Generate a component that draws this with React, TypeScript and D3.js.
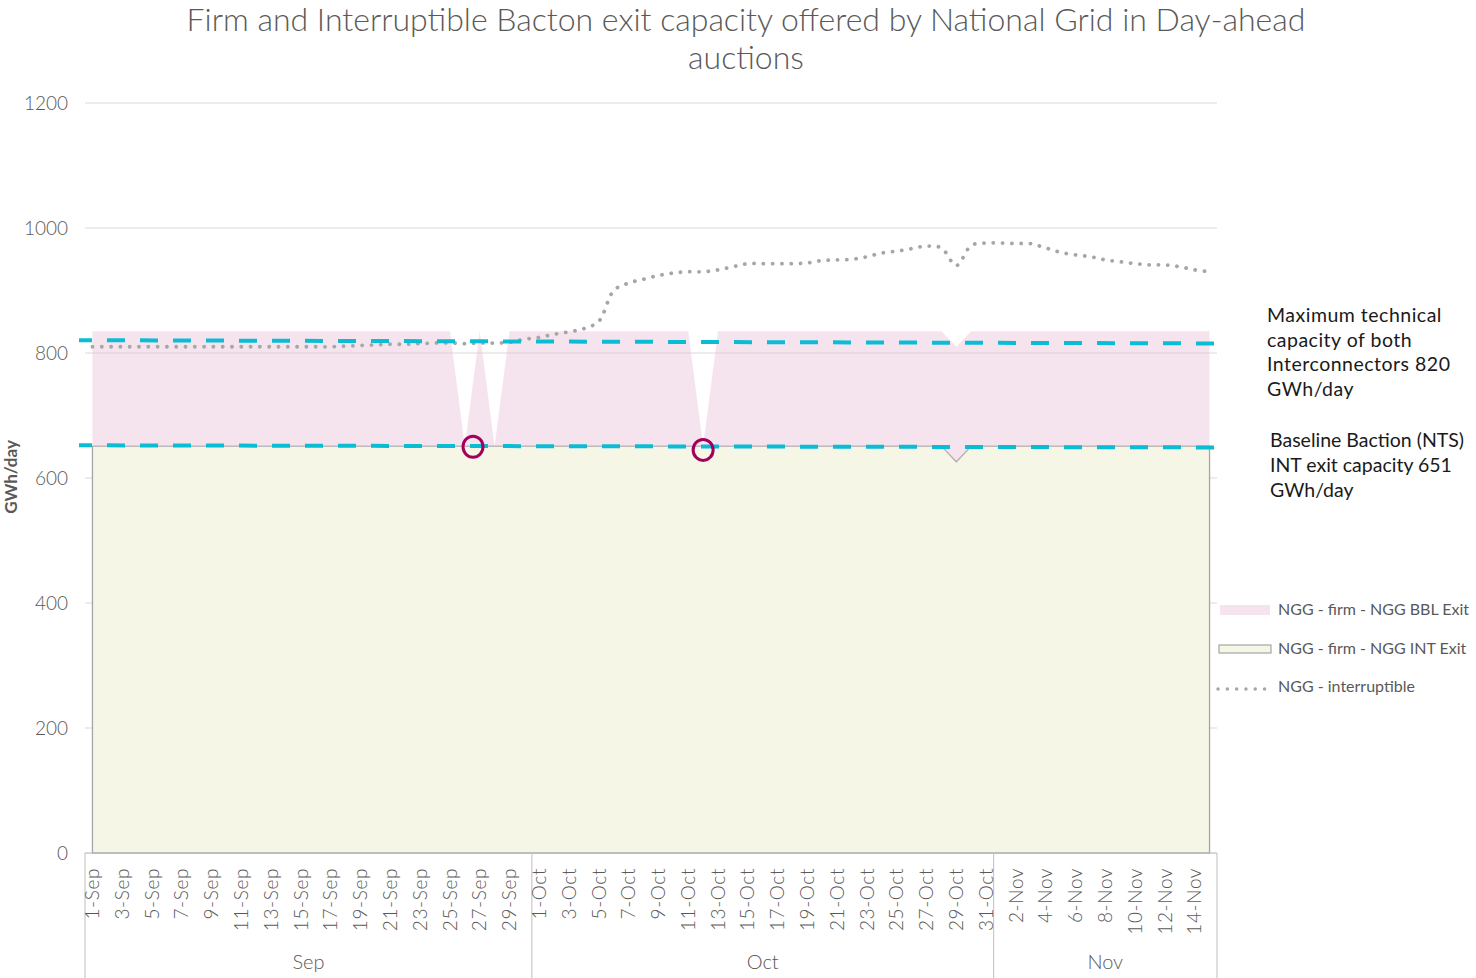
import * as d3 from 'd3'

// categories: one entry per day, 1 Sep to 15 Nov
const dayDates = d3.timeDay.range(new Date(2019, 8, 1), new Date(2019, 10, 16))
const fmtDay = d3.timeFormat('%-d-%b')
const fmtMonth = d3.timeFormat('%b')
const days = dayDates.map((d) => fmtDay(d))
const monthStarts = ['1-Sep', '1-Oct', '1-Nov']

// NGG - firm - NGG INT Exit (GWh/day)
const intExit = [
	651, 651, 651, 651, 651, 651, 651, 651, 651, 651, 651, 651, 651, 651, 651,
	651, 651, 651, 651, 651, 651, 651, 651, 651, 651, 651, 651, 651, 651, 651,
	651, 651, 651, 651, 651, 651, 651, 651, 651, 651, 651, 651, 651, 651, 651,
	651, 651, 651, 651, 651, 651, 651, 651, 651, 651, 651, 651, 651, 626, 651,
	651, 651, 651, 651, 651, 651, 651, 651, 651, 651, 651, 651, 651, 651, 651,
	651,
]
// NGG - firm - NGG BBL Exit (GWh/day), stacked on INT
const bblExit = [
	184, 184, 184, 184, 184, 184, 184, 184, 184, 184, 184, 184, 184, 184, 184,
	184, 184, 184, 184, 184, 184, 184, 184, 184, 184, 0, 184, 0, 184, 184,
	184, 184, 184, 184, 184, 184, 184, 184, 184, 184, 184, 0, 184, 184, 184,
	184, 184, 184, 184, 184, 184, 184, 184, 184, 184, 184, 184, 184, 184, 184,
	184, 184, 184, 184, 184, 184, 184, 184, 184, 184, 184, 184, 184, 184, 184,
	184,
]
// NGG - interruptible (GWh/day)
const interruptible = [
	810, 810, 810, 810, 810, 810, 810, 810, 810, 810, 810, 810, 810, 810, 810,
	810, 810, 811, 812, 813, 814, 814, 815, 816, 816, 815, 816, 816, 817, 822,
	825, 830, 834, 839, 851, 900, 912, 918, 924, 928, 930, 930, 933, 938, 943,
	943, 943, 943, 944, 948, 949, 950, 954, 960, 963, 967, 971, 968, 940, 972,
	976, 976, 975, 975, 968, 961, 957, 954, 949, 946, 943, 941, 941, 938, 933,
	930,
]

const yTicks = [0, 200, 400, 600, 800, 1000, 1200]

const refLines = [
	{ name: 'max', from: 820.5, to: 815.2 },
	{ name: 'baseline', from: 652.3, to: 648.9 },
]
const refNotes = [
	['Maximum technical', 'capacity of both', 'Interconnectors 820', 'GWh/day'],
	['Baseline Baction (NTS)', 'INT exit capacity 651', 'GWh/day'],
]
const circled = [
	{ day: '26-Sep', value: 650, shift: 0.55 },
	{ day: '12-Oct', value: 645, shift: 0 },
]

const legendItems = ['NGG - firm - NGG BBL Exit', 'NGG - firm - NGG INT Exit', 'NGG - interruptible']

const W = 1476
const H = 978
const left = 85
const right = 1217
const top = 103
const bottom = 853
const font = 'Lato, "DejaVu Sans", sans-serif'
const grey = '#595959'

export default function App() {
	const x = d3.scaleBand().domain(days).range([left, right])
	const bw = x.bandwidth()
	const cx = (d) => x(d) + bw / 2
	const y = d3.scaleLinear().domain([0, 1200]).range([bottom, top])

	const table = days.map((d, i) => ({ day: d, int: intExit[i], bbl: bblExit[i], irr: interruptible[i] }))
	const stacked = d3.stack().keys(['int', 'bbl'])(table)

	const area = d3
		.area()
		.x((d) => cx(d.data.day))
		.y0((d) => y(d[0]))
		.y1((d) => y(d[1]))

	const line = d3
		.line()
		.curve(d3.curveCatmullRom)
		.x((d) => cx(d.day))
		.y((d) => y(d.irr))

	const seps = [left, ...monthStarts.slice(1).map((m) => x(m)), right]
	const months = seps.slice(0, -1).map((s, i) => ({
		label: fmtMonth(dayDates[days.indexOf(monthStarts[i])]),
		mid: (s + seps[i + 1]) / 2,
	}))

	return (
		<svg width={W} height={H} style={{ position: 'absolute', left: 0, top: 0, background: '#fff' }} fontFamily={font}>
			<text x={746} y={31} textAnchor="middle" fontSize={32} fontWeight={300} fill={grey}>
				Firm and Interruptible Bacton exit capacity offered by National Grid in Day-ahead
			</text>
			<text x={746} y={69} textAnchor="middle" fontSize={32} fontWeight={300} fill={grey}>
				auctions
			</text>

			{yTicks.map((t) => (
				<g key={t}>
					<line x1={left} x2={right} y1={y(t)} y2={y(t)} stroke="#d9d9d9" strokeWidth={1.2} />
					<text x={68} y={y(t)} dy="0.35em" textAnchor="end" fontSize={19} fontWeight={300} fill={grey}>
						{t}
					</text>
				</g>
			))}
			<text transform={`translate(17,${y(600) - 1}) rotate(-90)`} textAnchor="middle" fontSize={17} fontWeight="bold" fill={grey}>
				GWh/day
			</text>

			<path d={area(stacked[0])} fill="#f6f6e6" stroke="#a6a6a6" strokeWidth={1.3} />
			<path d={area(stacked[1])} fill="rgb(233,195,218)" fillOpacity={0.45} />
			<path
				d={line(table)}
				fill="none"
				stroke="#a6a6a6"
				strokeWidth={3.8}
				strokeLinecap="round"
				strokeDasharray="0.1 9.2"
			/>

			{refLines.map((r) => (
				<line
					key={r.name}
					x1={79}
					x2={1228}
					y1={y(r.from)}
					y2={y(r.to)}
					stroke="#0bbcd5"
					strokeWidth={4}
					strokeDasharray="18 15"
					strokeDashoffset={5}
				/>
			))}
			{circled.map((c) => (
				<ellipse
					key={c.day}
					cx={cx(c.day) + c.shift * bw}
					cy={y(c.value)}
					rx={10}
					ry={10.5}
					fill="none"
					stroke="#a3005c"
					strokeWidth={3}
				/>
			))}

			{/* category axis */}
			<line x1={left} x2={right} y1={bottom} y2={bottom} stroke="#bfbfbf" strokeWidth={1.2} />
			{seps.map((s, i) => (
				<line key={i} x1={s} x2={s} y1={bottom} y2={H} stroke="#c8c8c8" strokeWidth={1.2} />
			))}
			{days.map((d, i) =>
				i % 2 === 0 ? (
					<text
						key={d}
						transform={`translate(${cx(d)},868) rotate(-90)`}
						dy="0.35em"
						textAnchor="end"
						fontSize={19}
						fontWeight={300}
						letterSpacing={0.6}
						fill={grey}
					>
						{d}
					</text>
				) : null
			)}
			{months.map((m) => (
				<text key={m.label} x={m.mid} y={969} textAnchor="middle" fontSize={20} fontWeight={300} fill={grey}>
					{m.label}
				</text>
			))}

			{/* reference notes */}
			{refNotes[0].map((t, i) => (
				<text key={t} x={1267} y={322 + i * 24.7} fontSize={19.5} letterSpacing={0.5} fill="#1a1a1a">
					{t}
				</text>
			))}
			{refNotes[1].map((t, i) => (
				<text key={t} x={1270} y={447 + i * 24.8} fontSize={19.5} fill="#1a1a1a">
					{t}
				</text>
			))}

			{/* legend */}
			<rect x={1220} y={605} width={50} height={10} fill="rgb(233,195,218)" fillOpacity={0.45} />
			<rect x={1219} y={645} width={52} height={8} fill="#f6f6e6" stroke="#a6a6a6" strokeWidth={1.2} />
			<line x1={1218} x2={1266} y1={689} y2={689} stroke="#a6a6a6" strokeWidth={3.4} strokeLinecap="round" strokeDasharray="0.1 9.2" />
			{legendItems.map((t, i) => (
				<text key={t} x={1278} y={615 + i * 38.5} fontSize={16} fill={grey}>
					{t}
				</text>
			))}
		</svg>
	)
}
